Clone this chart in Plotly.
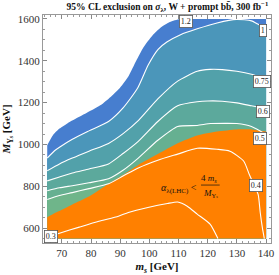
import plotly.graph_objects as go

# ---- contour curves (m_s [GeV], M_Ys [GeV]) ----
m12 = [65, 67, 69.2, 72, 76, 80, 84, 87, 90, 93, 95.5, 98, 101, 104, 107, 110.5]
M12 = [996, 1045, 1076, 1102, 1132, 1162, 1195, 1230, 1272, 1330, 1400, 1465, 1520, 1560, 1585, 1600]

m10 = [65, 67.5, 69.2, 73.6, 79.3, 86, 91, 96, 99.6, 103, 106, 110.7, 116.4, 123.2, 129.9, 135, 137.6, 140]
M10 = [935, 970, 987, 1025, 1065, 1110, 1175, 1270, 1380, 1455, 1490, 1525, 1553, 1581, 1598, 1591, 1572, 1558]

m075 = [65, 69.2, 73.6, 79.3, 86, 91.1, 96.2, 102.9, 109.7, 116.4, 120.8, 125, 130, 135, 140]
M075 = [874, 907, 935, 968, 1005, 1053, 1114, 1218, 1303, 1350, 1359, 1358, 1350, 1336, 1312]

m06 = [65, 69.2, 73.6, 79.3, 86, 91.1, 96.2, 102.9, 109.7, 116.4, 120, 125, 130, 135, 140]
M06 = [826, 845, 864, 883, 907, 958, 1015, 1110, 1185, 1204, 1208, 1207, 1199, 1185, 1171]

m05 = [65, 69.2, 73.6, 79.3, 86, 91.1, 96.2, 102.9, 109.7, 116.4, 121, 126, 130, 135, 140]
M05 = [779, 793, 803, 817, 836, 878, 935, 1020, 1086, 1091, 1100, 1101, 1100, 1086, 1048]

m04 = [65, 69.2, 73.6, 79.3, 86, 91.1, 96.2, 102.9, 109.7, 116.4, 123.2, 127.6, 132.3, 134.3, 136, 137.3, 138, 138.7, 139.4]
M04 = [737, 756, 770, 789, 812, 850, 888, 925, 954, 982, 977, 968, 921, 855, 803, 760, 675, 605, 550]

m03 = [65, 69.2, 76, 82.7, 89.4, 92.8, 99.5, 106.2, 109.7, 113, 116.4, 120.8, 123.5]
M03 = [558, 576, 605, 633, 657, 675, 699, 718, 725, 705, 667, 619, 550]

# boundary of the region alpha_lambda(LHC) < 4 m_s / M_Ys
m_or = [65, 67.5, 70.9, 73.6, 79.3, 86, 91.1, 96.2, 102.9, 109.7, 116.4, 123.2, 129.9, 135, 140]
M_or = [652, 671, 694, 713, 751, 812, 855, 902, 954, 1006, 1043, 1062, 1072, 1072, 1062]

m_top = [115, 120, 125, 130, 135, 140]
M_top = [1600, 1600, 1600, 1600, 1600, 1600]

m_min, m_max = 65, 140
M_min, M_max = 550, 1600

x_ticks = [70, 80, 90, 100, 110, 120, 130, 140]
y_ticks = [600, 800, 1000, 1200, 1400, 1600]

band_colors = ["#477ecf", "#4b96ba", "#52a1aa", "#5ca99c", "#66b091", "#6fb58a"]
orange = "#ff8000"

SERIF = "Liberation Serif"
fig = go.Figure()

def region(xs, ys, color):
    fig.add_trace(go.Scatter(x=[m_min, m_max], y=[M_min, M_min], mode="lines",
                             line=dict(width=0), showlegend=False, hoverinfo="skip"))
    fig.add_trace(go.Scatter(x=xs, y=ys, mode="lines",
                             line=dict(width=0, shape="spline", smoothing=0.6),
                             fill="tonexty", fillcolor=color, showlegend=False, hoverinfo="skip"))

region(m12 + m_top, M12 + M_top, band_colors[0])
region(m10, M10, band_colors[1])
region(m075, M075, band_colors[2])
region(m06, M06, band_colors[3])
region(m05, M05, band_colors[4])
region(m04, M04, band_colors[5])
region(m_or, M_or, orange)

for xs, ys in [(m10, M10), (m075, M075), (m06, M06), (m05, M05), (m04, M04), (m03, M03)]:
    fig.add_trace(go.Scatter(x=xs, y=ys, mode="lines",
                             line=dict(color="white", width=1.1, shape="spline", smoothing=0.6),
                             showlegend=False, hoverinfo="skip"))

labels = [("1.2", 112.4, 1586), ("1", 139.0, 1543), ("0.75", 138.7, 1303), ("0.6", 139.0, 1157),
          ("0.5", 138.0, 1029), ("0.4", 136.6, 803), ("0.3", 66.2, 562)]
ann = []
for t, x, y in labels:
    ann.append(dict(x=x, y=y, text=t, showarrow=False, bgcolor="white", bordercolor="#555",
                    borderwidth=0.8, borderpad=1, font=dict(family=SERIF, size=8, color="#222")))

ann.append(dict(x=117.0, y=790, xanchor="right", text="<i>α</i><sub>λ(LHC)</sub> &lt;", showarrow=False,
                font=dict(family=SERIF, size=10, color="#111")))
ann.append(dict(x=120.6, y=839, text="4 <i>m</i><sub><i>s</i></sub>", showarrow=False,
                font=dict(family=SERIF, size=9, color="#111")))
ann.append(dict(x=120.8, y=766, text="<i>M</i><sub>Υ<span style='font-size:5px'><i>s</i></span></sub>",
                showarrow=False, font=dict(family=SERIF, size=9, color="#111")))

fig.add_shape(type="line", x0=117.7, x1=124.1, y0=806, y1=806, line=dict(color="#111", width=0.7))

axis_common = dict(showgrid=False, zeroline=False, ticks="inside", ticklen=4, tickcolor="#888",
                   showline=True, linecolor="#999", linewidth=1, mirror="allticks",
                   tickfont=dict(family=SERIF, size=11, color="#333"))

fig.update_layout(
    width=279, height=275, margin=dict(l=43, r=4, t=15, b=29),
    plot_bgcolor="white", paper_bgcolor="white",
    title=dict(text="<b>95% CL exclusion on <i>σ</i><sub>λ</sub>, W + prompt bb̄, 300 fb<sup>−1</sup></b>",
               x=0.6, xanchor="center", y=0.975, yanchor="middle",
               font=dict(family=SERIF, size=9.5, color="#111")),
    xaxis=dict(range=[63.55, 141.69], tickvals=x_ticks,
               minor=dict(dtick=2, tick0=70, ticks="inside", ticklen=2, tickcolor="#999"),
               title=dict(text="<b><i>m</i><sub><i>s</i></sub> [GeV]</b>", standoff=4,
                          font=dict(family=SERIF, size=11, color="#111")),
               **axis_common),
    yaxis=dict(range=[529, 1619], tickvals=y_ticks,
               minor=dict(dtick=50, tick0=600, ticks="inside", ticklen=2, tickcolor="#999"),
               title=dict(text="<b><i>M</i><sub>Υ<span style='font-size:6px'><i>s</i></span></sub> [GeV]</b>",
                          standoff=4, font=dict(family=SERIF, size=11, color="#111")),
               **axis_common),
    annotations=ann,
)

fig.write_html("out.html", config={"displayModeBar": False},
               post_script="document.body.style.margin='0';document.body.style.overflow='hidden';")
